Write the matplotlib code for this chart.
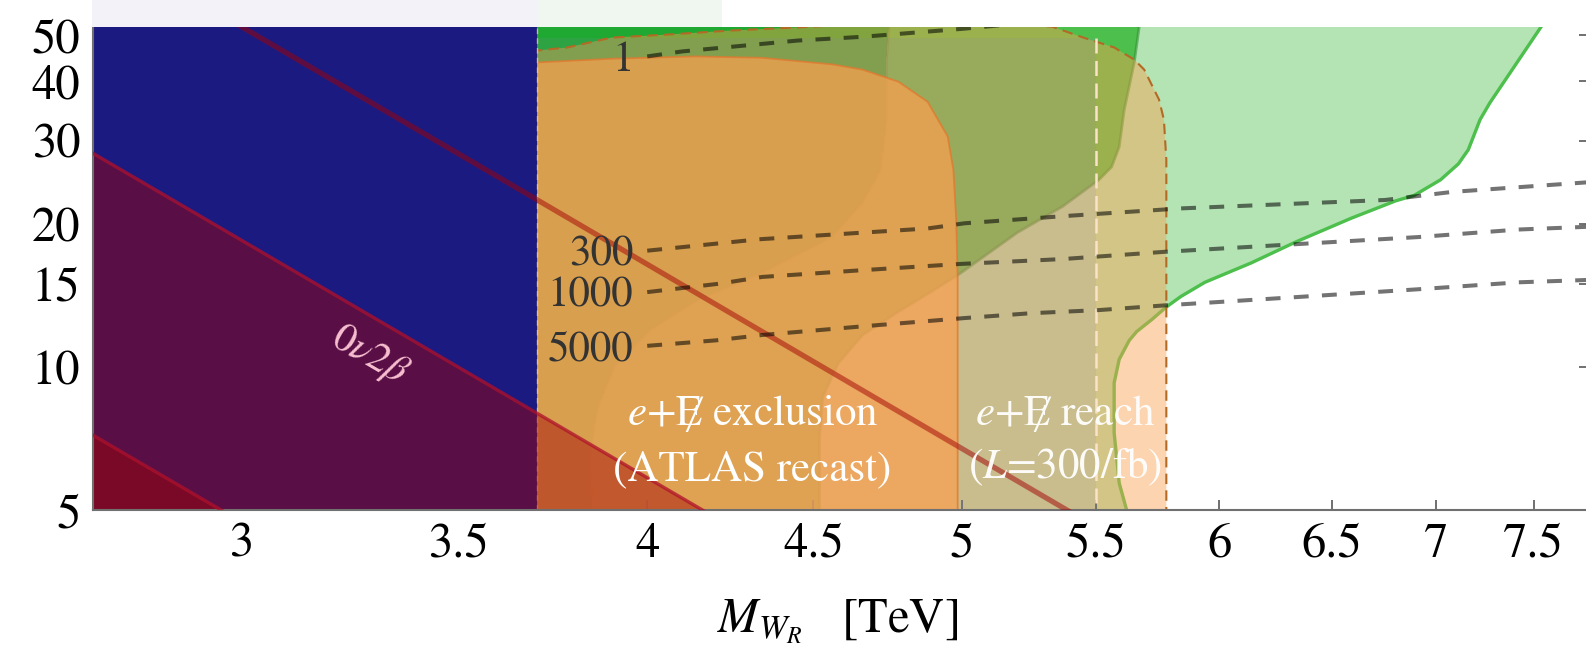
import matplotlib
matplotlib.use("Agg")
import matplotlib.pyplot as plt  # noqa: E402
import numpy as np  # noqa: E402
from matplotlib.patches import Polygon, Rectangle  # noqa: E402
from matplotlib.ticker import NullLocator  # noqa: E402

plt.rcParams["font.family"] = ["STIXGeneral", "DejaVu Serif"]
plt.rcParams["mathtext.fontset"] = "stix"

# ── axes ─────────────────────────────────────────────────────────────────────
X_RANGE = (2.7, 7.8)
Y_RANGE = (5.0, 52.0)
x_ticks = [3, 3.5, 4, 4.5, 5, 5.5, 6, 6.5, 7, 7.5]
x_tick_labels = ["3", "3.5", "4", "4.5", "5", "5.5", "6", "6.5", "7", "7.5"]
y_ticks = [5, 10, 15, 20, 30, 40, 50]
y_tick_labels = ["5", "10", "15", "20", "30", "40", "50"]

# ── regions, all in (M_WR [TeV], y) ──────────────────────────────────────────
# edge of the previously excluded band (blue, left of it)
blue_edge = 3.70

# 0vbb lines, straight in log-log
dbd_top_M = [2.95, 5.50]
dbd_top_y = [55.7, 4.61]
dbd_mid_M = [2.65, 4.25]
dbd_mid_y = [30.4, 4.60]
dbd_low_M = [2.65, 3.00]
dbd_low_y = [7.76, 4.73]

# light green region, right-hand boundary (top -> bottom)
lg_M = [7.64, 7.54, 7.27, 7.22, 7.16, 7.11, 7.02, 6.89, 6.80, 6.59, 6.34, 6.14,
        5.94, 5.84, 5.78, 5.72, 5.66, 5.63, 5.59, 5.57, 5.57, 5.59, 5.62, 5.63]
lg_y = [60.0, 52.1, 36.0, 33.2, 28.7, 26.8, 24.8, 23.0, 22.4, 20.6, 18.4, 16.6,
        15.1, 14.1, 13.4, 12.6, 11.9, 11.4, 10.4, 9.28, 7.28, 5.71, 5.0, 4.8]

# inner green band: left edge (top -> bottom), right edge (bottom -> top)
g2_left_M = [4.75, 4.74, 4.74, 4.72, 4.66, 4.56, 4.34, 4.15, 4.01, 3.91, 3.86, 3.84, 3.85]
g2_left_y = [53.9, 44.4, 33.2, 26.0, 22.2, 18.8, 15.8, 13.9, 12.0, 10.1, 8.14, 6.39, 4.8]
g2_right_M = [4.52, 4.52, 4.53, 4.58, 4.66, 4.78, 4.89, 4.99, 5.20, 5.37, 5.51,
              5.56, 5.59, 5.61, 5.65, 5.67, 5.67]
g2_right_y = [4.8, 7.14, 8.67, 10.2, 11.7, 13.1, 14.4, 15.7, 19.2, 21.8, 24.8,
              26.4, 29.1, 34.8, 43.8, 52.1, 55.0]

# e+MET reach (L = 300/fb), upper / right boundary
reach_M = [3.60, 3.70, 3.78, 3.90, 4.05, 4.24, 4.50, 4.89, 5.33, 5.45, 5.57,
           5.65, 5.69, 5.75, 5.77, 5.78, 5.78, 5.78]
reach_y = [46.0, 46.4, 47.1, 49.4, 50.1, 51.1, 52.1, 53.9, 52.1, 49.4, 47.1,
           44.4, 42.3, 36.6, 33.2, 27.3, 20.4, 4.8]

# e+MET exclusion (ATLAS recast), upper / right boundary
excl_M = [3.70, 3.90, 4.14, 4.34, 4.56, 4.66, 4.78, 4.88, 4.95, 4.97, 4.98, 4.985, 4.985]
excl_y = [43.8, 44.6, 45.1, 44.8, 43.4, 42.3, 39.9, 36.2, 30.6, 26.0, 20.4, 15.3, 4.8]

# faint band left of the 5.5 TeV marker
w_M = [3.60, 5.50]
w_top = 49.4

# dashed contours
contour_labels = ["1", "300", "1000", "5000"]
c1_M = [4.00, 4.10, 4.45, 4.66, 5.01, 5.16]
c1_y = [45.1, 46.2, 48.7, 49.6, 51.6, 52.6]
c300_M = [4.00, 4.33, 4.88, 5.01, 5.37, 5.84, 6.75, 7.08, 7.85]
c300_y = [17.6, 18.6, 19.6, 20.1, 20.8, 21.6, 22.5, 23.4, 24.6]
c1000_M = [4.00, 4.21, 4.34, 4.65, 4.99, 5.37, 5.77, 6.28, 6.91, 7.42, 7.85]
c1000_y = [14.4, 15.0, 15.5, 16.0, 16.5, 16.9, 17.5, 18.1, 18.8, 19.5, 19.8]
c5000_M = [4.00, 4.20, 4.34, 4.66, 5.01, 5.25, 5.51, 5.77, 6.28, 6.91, 7.42, 7.85]
c5000_y = [11.1, 11.4, 11.7, 12.2, 12.7, 13.0, 13.2, 13.5, 14.0, 14.6, 15.1, 15.3]

ORANGE = (250 / 255, 160 / 255, 79 / 255)
RED = (163 / 255, 2 / 255, 3 / 255)
LGREEN = "#4cbf4c"


def _poly(ax, M, y, color, alpha=1.0, z=1.0):
    ax.add_patch(Polygon(np.column_stack([M, y]), closed=True, facecolor=color,
                         edgecolor="none", alpha=alpha, zorder=z))


fig = plt.figure(figsize=(15.86, 6.56), dpi=100)
ax = fig.add_axes([0.0586, 0.2218, 0.9433, 0.7370])
ax.set_xscale("log")
ax.set_yscale("log")

# stacked green regions
_poly(ax, lg_M + [3.6, 3.6], lg_y + [4.8, 60.0], LGREEN, alpha=0.42, z=1.0)
_poly(ax, [3.6] + g2_left_M + [3.6], [55.0] + g2_left_y + [4.8], "#1fa832", z=1.1)
_poly(ax, g2_left_M + g2_right_M, g2_left_y + g2_right_y, LGREEN, z=1.2)
ax.plot(lg_M, lg_y, color=LGREEN, lw=2.4, zorder=1.3)
ax.plot(g2_right_M, g2_right_y, color="#2f8f2f", lw=2.0, alpha=0.55, zorder=1.3)
ax.plot(g2_left_M, g2_left_y, color="#4d7a25", lw=1.8, alpha=0.35, zorder=1.3)

# e+MET reach and exclusion
_poly(ax, reach_M + [3.6], reach_y + [4.8], ORANGE, alpha=0.45, z=1.5)
_poly(ax, [w_M[0], w_M[1], w_M[1], w_M[0]], [4.8, 4.8, w_top, w_top],
      (0.55, 0.51, 0.76), alpha=0.13, z=1.6)
_poly(ax, excl_M + [blue_edge], excl_y + [4.8], ORANGE, alpha=0.72, z=1.7)
ax.plot(excl_M, excl_y, color="#e07a30", lw=1.3, alpha=0.8, zorder=1.8)
ax.plot(reach_M, reach_y, color="#b36a25", lw=1.5, ls=(0, (5, 3)), zorder=1.9)

# previously excluded band
ax.axvspan(X_RANGE[0], blue_edge, color="#1b1a80", lw=0, zorder=2.0)
ax.axvline(blue_edge, color="#efc898", lw=1.0, ls=(0, (4, 3)), alpha=0.8, zorder=2.1)

# 0vbb
ax.fill_between(dbd_mid_M, dbd_mid_y, 4.0, color=RED, alpha=0.46, lw=0, zorder=2.5)
ax.fill_between(dbd_low_M, dbd_low_y, 4.0, color=RED, alpha=0.46, lw=0, zorder=2.5)
ax.plot(dbd_mid_M, dbd_mid_y, color="#b0102a", lw=2.4, alpha=0.75, zorder=2.6)
ax.plot(dbd_low_M, dbd_low_y, color="#b0102a", lw=2.4, alpha=0.75, zorder=2.6)
ax.plot(dbd_top_M, dbd_top_y, color=RED, lw=3.8, alpha=0.5, zorder=2.6,
        solid_capstyle="butt")
ax.text(3.285, 10.6, r"$\mathit{0}\nu\mathit{2}\beta$", rotation=-30.4,
        rotation_mode="anchor", ha="center", va="center", color="#f7bfd0",
        fontsize=29, zorder=4)

# 5.5 TeV marker
ax.plot([5.5, 5.5], [w_top, 4.8], color="#fbe2c8", lw=1.8, ls=(0, (6, 3)), zorder=3)

# contours + labels
for lbl, M, y in zip(contour_labels, [c1_M, c300_M, c1000_M, c5000_M],
                     [c1_y, c300_y, c1000_y, c5000_y]):
    ax.plot(M, y, color="black", alpha=0.55, lw=2.9, ls=(0, (3.7, 3.3)),
            dash_capstyle="butt", zorder=3)
    ax.annotate(lbl, xy=(M[0], y[0]), xytext=(-10, -3), textcoords="offset points",
                ha="right", va="center", fontsize=31, color="#333333", zorder=4)

# region labels
ax.text(4.31, 7.57, "$e$+E\u0338 exclusion", ha="center", va="baseline",
        color="white", fontsize=31, zorder=4)
ax.text(4.31, 5.80, "(ATLAS recast)", ha="center", va="baseline",
        color="white", fontsize=31, zorder=4)
ax.text(5.38, 7.57, "$e$+E\u0338 reach", ha="center", va="baseline",
        color="white", fontsize=31, zorder=4, alpha=0.95)
ax.text(5.38, 5.85, "($L$=300/fb)", ha="center", va="baseline",
        color="white", fontsize=31, zorder=4, alpha=0.95)

ax.set_xlim(*X_RANGE)
ax.set_ylim(*Y_RANGE)
ax.set_xticks(x_ticks)
ax.set_xticklabels(x_tick_labels)
ax.set_yticks(y_ticks)
ax.set_yticklabels(y_tick_labels)
ax.xaxis.set_minor_locator(NullLocator())
ax.yaxis.set_minor_locator(NullLocator())
ax.tick_params(which="major", direction="in", length=7, width=1.4, color="#707070",
               labelsize=35, top=False, right=True)
ax.tick_params(axis="x", pad=9)
ax.tick_params(axis="y", pad=9)
for side in ("left", "bottom", "right"):
    ax.spines[side].set_color("#707070")
    ax.spines[side].set_linewidth(1.5)
ax.spines["top"].set_visible(False)

fig.text(0.528, 0.035, r"$M_{W_R}$   [TeV]", ha="center", va="baseline", fontsize=35)

# pale strip above the frame
fig.add_artist(Rectangle((92 / 1586, 629 / 656), 446 / 1586, 27 / 656,
                         transform=fig.transFigure, color="#f3f2f8", lw=0))
fig.add_artist(Rectangle((538 / 1586, 629 / 656), 184 / 1586, 27 / 656,
                         transform=fig.transFigure, color="#f0f7f1", lw=0))

fig.savefig("out.png", dpi=100)
